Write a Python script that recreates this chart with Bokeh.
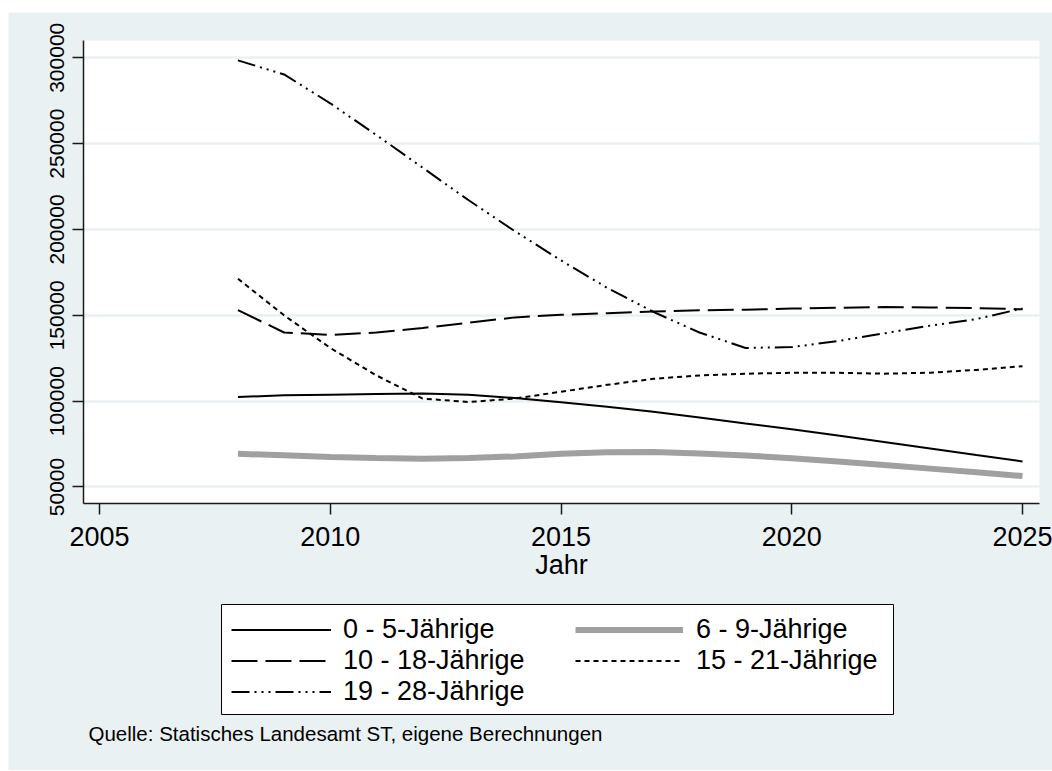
from bokeh.plotting import figure
from bokeh.models import (Legend, LegendItem, Label, FixedTicker, Range1d,
                          BasicTickFormatter, ColumnDataSource, BoxAnnotation)
from bokeh.embed import file_html
from bokeh.resources import INLINE

# ---------------- data ----------------
years = list(range(2008, 2026))
age_0_5 = [102400, 103400, 103800, 104200, 104400, 103800, 101800, 99300, 96800,
           93800, 90500, 87000, 83700, 80000, 76200, 72400, 68600, 64900]
age_6_9 = [69300, 68500, 67500, 66900, 66500, 66900, 67800, 69300, 70200,
           70400, 69500, 68300, 66800, 64900, 62800, 60700, 58600, 56400]
age_10_18 = [153000, 140000, 138600, 140000, 142600, 145700, 148800, 150300, 151200,
             152200, 152900, 153300, 153900, 154400, 154800, 154600, 154200, 153500]
age_15_21 = [171300, 150000, 131000, 115000, 101500, 99500, 101500, 105500, 109500,
             113000, 115000, 116000, 116500, 116500, 116000, 116600, 118200, 120400]
age_19_28 = [298500, 290300, 273500, 255000, 236000, 217000, 199000, 182000, 166000,
             152000, 140000, 131000, 131500, 135000, 139500, 144000, 147800, 154000]

labels = ["0 - 5-Jährige", "6 - 9-Jährige", "10 - 18-Jährige",
          "15 - 21-Jährige", "19 - 28-Jährige"]
x_ticks = [2005, 2010, 2015, 2020, 2025]
y_ticks = [50000, 100000, 150000, 200000, 250000, 300000]
source_text = "Quelle: Statisches Landesamt ST, eigene Berechnungen"

FONT = "Liberation Sans"
BG = "#EAF1F3"

# plot region (data units) and the whole canvas extent
X_LO, X_HI = 2004.653, 2025.368
Y_LO, Y_HI = 40390, 310077
CX_LO, CX_HI = 2003.028, 2025.650
CY_LO, CY_HI = -115134, 326386

p = figure(width=1044, height=758, output_backend="svg", toolbar_location=None,
           x_range=Range1d(CX_LO, CX_HI), y_range=Range1d(CY_LO, CY_HI),
           min_border_left=0, min_border_right=0, min_border_top=0,
           min_border_bottom=0)
p.margin = (12, 0, 0, 8)
p.background_fill_color = BG
p.border_fill_color = BG
p.outline_line_color = None

# white plotting area
p.add_layout(BoxAnnotation(left=X_LO, right=X_HI, bottom=Y_LO, top=Y_HI,
                           fill_color="white", fill_alpha=1.0,
                           line_color=None, level="image"))

p.xgrid.grid_line_color = None
p.ygrid.grid_line_color = BG
p.ygrid.grid_line_width = 2.5
p.ygrid.ticker = FixedTicker(ticks=y_ticks)

# axes
for ax in (p.xaxis[0], p.yaxis[0]):
    ax.axis_line_color = "#1a1a1a"
    ax.axis_line_width = 1.5
    ax.major_tick_line_color = "#1a1a1a"
    ax.major_tick_line_width = 1.5
    ax.major_tick_out = 11
    ax.major_tick_in = 0
    ax.minor_tick_line_color = None
    ax.major_label_text_font = FONT
    ax.major_label_text_color = "black"
    ax.axis_label_text_font = FONT
    ax.axis_label_text_color = "black"

p.xaxis.fixed_location = Y_LO
p.xaxis.bounds = (X_LO, X_HI)
p.xaxis.ticker = FixedTicker(ticks=x_ticks)
p.xaxis.major_label_text_font_size = "27px"
p.xaxis.major_label_standoff = 13
p.xaxis.axis_label = "Jahr"
p.xaxis.axis_label_text_font_size = "27px"
p.xaxis.axis_label_text_font_style = "normal"
p.xaxis.axis_label_standoff = 0

p.yaxis.fixed_location = X_LO
p.yaxis.bounds = (Y_LO, Y_HI)
p.yaxis.ticker = FixedTicker(ticks=y_ticks)
p.yaxis.formatter = BasicTickFormatter(use_scientific=False)
p.yaxis.major_label_orientation = "vertical"
p.yaxis.major_label_text_font_size = "21px"
p.yaxis.major_label_standoff = 8

src = ColumnDataSource(dict(year=years, a=age_0_5, b=age_6_9, c=age_10_18,
                            d=age_15_21, e=age_19_28))

r_b = p.line("year", "b", source=src, line_color="#A0A0A0", line_width=6)
r_a = p.line("year", "a", source=src, line_color="black", line_width=2)
r_d = p.line("year", "d", source=src, line_color="black", line_width=2,
             line_dash="5 4")
r_c = p.line("year", "c", source=src, line_color="black", line_width=2,
             line_dash="26 8")
r_e = p.line("year", "e", source=src, line_color="black", line_width=2,
             line_dash="18 5 2 5 2 5 2 5")

# legend frame
p.add_layout(BoxAnnotation(left=213, right=885, bottom=56, top=166,
                           left_units="screen", right_units="screen",
                           bottom_units="screen", top_units="screen",
                           fill_color="white", fill_alpha=1.0,
                           line_color="black", line_width=1, line_alpha=1.0))

common = dict(orientation="vertical", margin=0, padding=8, spacing=0,
              glyph_height=31, label_height=31,
              label_text_font=FONT, label_text_font_size="27px",
              label_text_color="black", border_line_color=None,
              background_fill_alpha=0.0)

ROW = 31
LEG_Y = 63
leg_a = Legend(items=[LegendItem(label=labels[0], renderers=[r_a]),
                      LegendItem(label=labels[2], renderers=[r_c]),
                      LegendItem(label=labels[4], renderers=[r_e])],
               location=(223, LEG_Y), glyph_width=100, label_standoff=12,
               **common)
leg_b = Legend(items=[LegendItem(label=labels[1], renderers=[r_b]),
                      LegendItem(label=labels[3], renderers=[r_d])],
               location=(567, LEG_Y + ROW), glyph_width=108, label_standoff=13,
               **common)
p.add_layout(leg_a, "center")
p.add_layout(leg_b, "center")

note = Label(x=80, y=37, x_units="screen", y_units="screen", text=source_text,
             text_font=FONT, text_font_size="20.5px", text_color="black",
             text_baseline="middle", text_align="left")
p.add_layout(note)

open("out.html", "w").write(file_html(p, INLINE))
